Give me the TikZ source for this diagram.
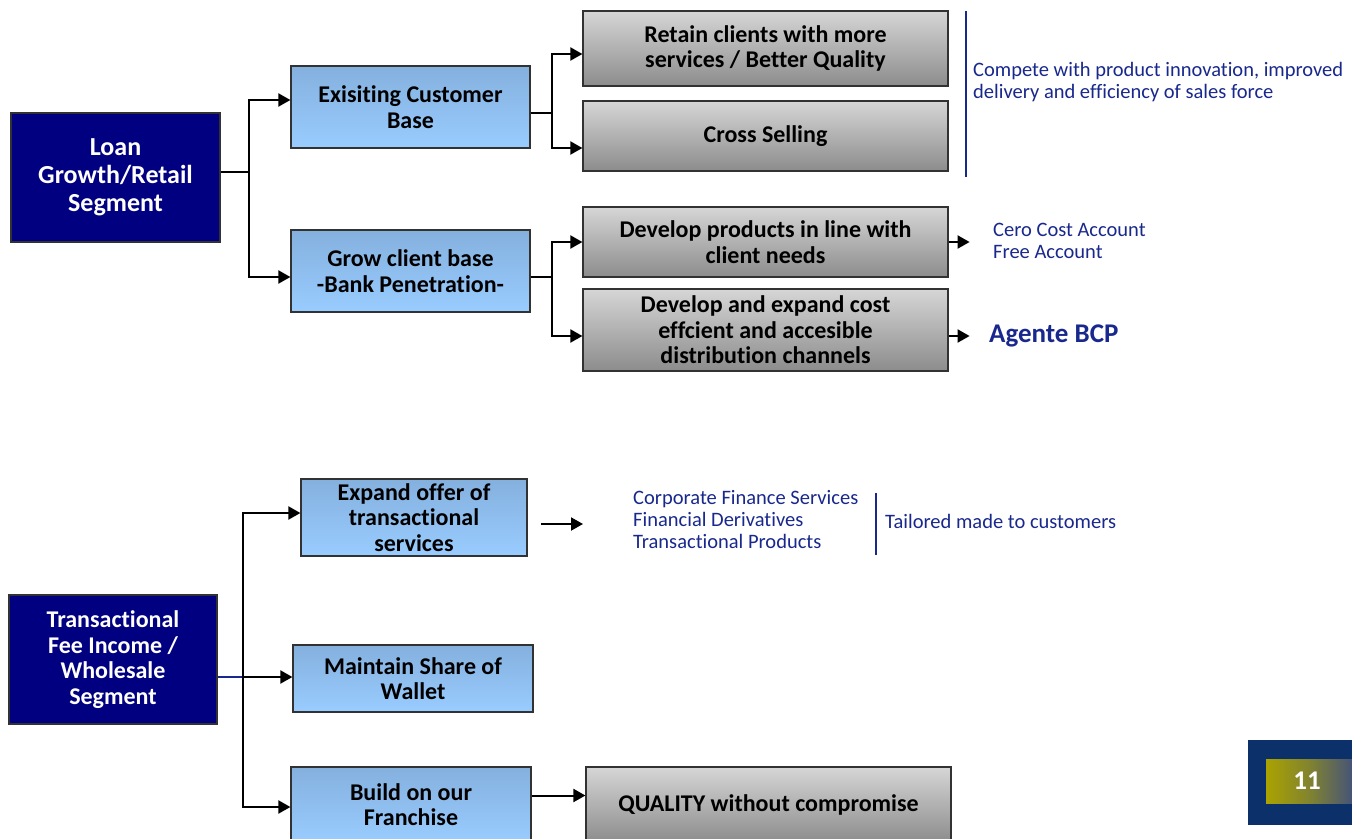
\documentclass[tikz,border=0pt]{standalone}
\usepackage{fontspec}
\setmainfont{Carlito}[Ligatures=NoCommon]
\usetikzlibrary{arrows.meta}
\definecolor{navybox}{RGB}{0,0,128}
\definecolor{bluetop}{RGB}{132,176,222}
\definecolor{bluebot}{RGB}{153,204,255}
\definecolor{graytop}{RGB}{214,214,214}
\definecolor{graybot}{RGB}{140,140,140}
\definecolor{txtblue}{RGB}{24,40,140}
\definecolor{edgegray}{RGB}{50,50,50}
\definecolor{pagenavy}{RGB}{12,48,106}
\definecolor{olive}{RGB}{170,163,0}
\definecolor{slateblue}{RGB}{70,84,118}
\tikzset{
  boxfont/.style={font=\fontsize{24}{25.5}\selectfont\bfseries, align=center},
  segbox/.style={draw=edgegray, line width=1.2pt, fill=navybox, text=white, boxfont, inner sep=0pt},
  bluebox/.style={draw=edgegray, line width=1.2pt, top color=bluetop, bottom color=bluebot, boxfont, inner sep=0pt},
  graybox/.style={draw=edgegray, line width=1.2pt, top color=graytop, bottom color=graybot, boxfont, inner sep=0pt},
  conn/.style={draw=black, line width=2pt},
  arr/.style={conn, -{Triangle[length=12pt,width=13pt]}},
  note/.style={text=txtblue, font=\fontsize{20.5}{22}\selectfont, align=left, inner sep=0pt, anchor=west},
  sepline/.style={draw=txtblue, line width=1.6pt},
}
\begin{document}
\begin{tikzpicture}[x=1pt,y=-1pt]
\useasboundingbox (0,0) rectangle (1352,838);
% ---------- top part ----------
\node[segbox, minimum width=209pt, minimum height=129pt, font=\fontsize{26}{28}\selectfont\bfseries] (loan) at (115.5,177.5) {Loan\\Growth/Retail\\Segment};
\node[bluebox, minimum width=239pt, minimum height=82pt] (exist) at (410.5,107) {Exisiting Customer\\Base};
\node[bluebox, minimum width=239pt, minimum height=82pt] (grow) at (410.5,271) {Grow client base\\-Bank Penetration-};
\node[graybox, minimum width=365pt, minimum height=75pt] (retain) at (765.5,48.5) {Retain clients with more\\services / Better Quality};
\node[graybox, minimum width=365pt, minimum height=70pt] (cross) at (765.5,136) {Cross Selling};
\node[graybox, minimum width=365pt, minimum height=70pt] (devprod) at (765.5,242) {Develop products in line with\\client needs};
\node[graybox, minimum width=365pt, minimum height=82pt] (devexp) at (765.5,330) {Develop and expand cost\\effcient and accesible\\distribution channels};

\draw[arr] ([yshift=5.5pt]loan.east) -- ++(28,0) |- ([yshift=7pt]exist.west);
\draw[arr] ([yshift=5.5pt]loan.east) -- ++(28,0) |- ([yshift=-6pt]grow.west);
\draw[arr] ([yshift=-6pt]exist.east) -- ++(21,0) |- ([yshift=-5.5pt]retain.west);
\draw[arr] ([yshift=-6pt]exist.east) -- ++(21,0) |- ([yshift=-12pt]cross.west);
\draw[arr] ([yshift=-6pt]grow.east) -- ++(21,0) |- (devprod.west);
\draw[arr] ([yshift=-6pt]grow.east) -- ++(21,0) |- ([yshift=-6pt]devexp.west);

\coordinate (sepAtop) at (966,11);
\coordinate (sepAbot) at (966,177);
\draw[sepline] (sepAtop) -- (sepAbot);
\node[note] (compete) at (973,82) {Compete with product innovation, improved\\delivery and efficiency of sales force};

\node[note] (cero) at (993,241) {Cero Cost Account\\Free Account};
\draw[arr] (devprod.east) -- ++(21,0);
\node[note, font=\fontsize{27}{28}\selectfont\bfseries] (agente) at (989,336) {Agente BCP};
\draw[arr] ([yshift=-6pt]devexp.east) -- ++(21,0);

% ---------- bottom part ----------
\node[segbox, minimum width=208pt, minimum height=129pt] (trans) at (113,659.5) {Transactional\\Fee Income /\\Wholesale\\Segment};
\node[bluebox, minimum width=226pt, minimum height=77pt] (expand) at (414,517.5) {Expand offer of\\transactional\\services};
\node[bluebox, minimum width=240pt, minimum height=67pt] (maintain) at (413,678.5) {Maintain Share of\\Wallet};
\node[bluebox, minimum width=240pt, minimum height=75pt] (build) at (411,804.5) {Build on our\\Franchise};
\node[graybox, minimum width=365pt, minimum height=75pt] (quality) at (768.5,804.5) {QUALITY without compromise};

\draw[draw=txtblue, line width=2pt] ([yshift=-17.5pt]trans.east) -- ++(25,0);
\draw[arr] ([yshift=-17.5pt]trans.east) ++(25,0) |- ([yshift=4.5pt]expand.west);
\draw[arr] ([yshift=-17.5pt]trans.east) ++(25,0) |- ([yshift=-2.5pt]build.west);
\draw[arr] ([yshift=-17.5pt]trans.east) ++(24,0) -- ([yshift=1.5pt]maintain.west);
\draw[arr] ([yshift=9pt]build.east) -- ([yshift=9pt]quality.west);

\coordinate (freearrow) at (541,524);
\draw[arr] (freearrow) -- ++(42,0);
\node[note] (offers) at (633,520) {Corporate Finance Services\\Financial Derivatives\\Transactional Products};
\coordinate (sepBtop) at (876,493);
\coordinate (sepBbot) at (876,555);
\draw[sepline] (sepBtop) -- (sepBbot);
\node[note] (tailored) at (885,521) {Tailored made to customers};

% ---------- page number ----------
\fill[pagenavy] (1248,740) rectangle (1352,825);
\shade[left color=olive, right color=slateblue, middle color=olive!60!slateblue] (1266,759) rectangle (1352,803);
\node[text=white, font=\fontsize{27}{28}\selectfont\bfseries, inner sep=0pt] (pagenum) at (1307,781) {11};
\end{tikzpicture}
\end{document}
